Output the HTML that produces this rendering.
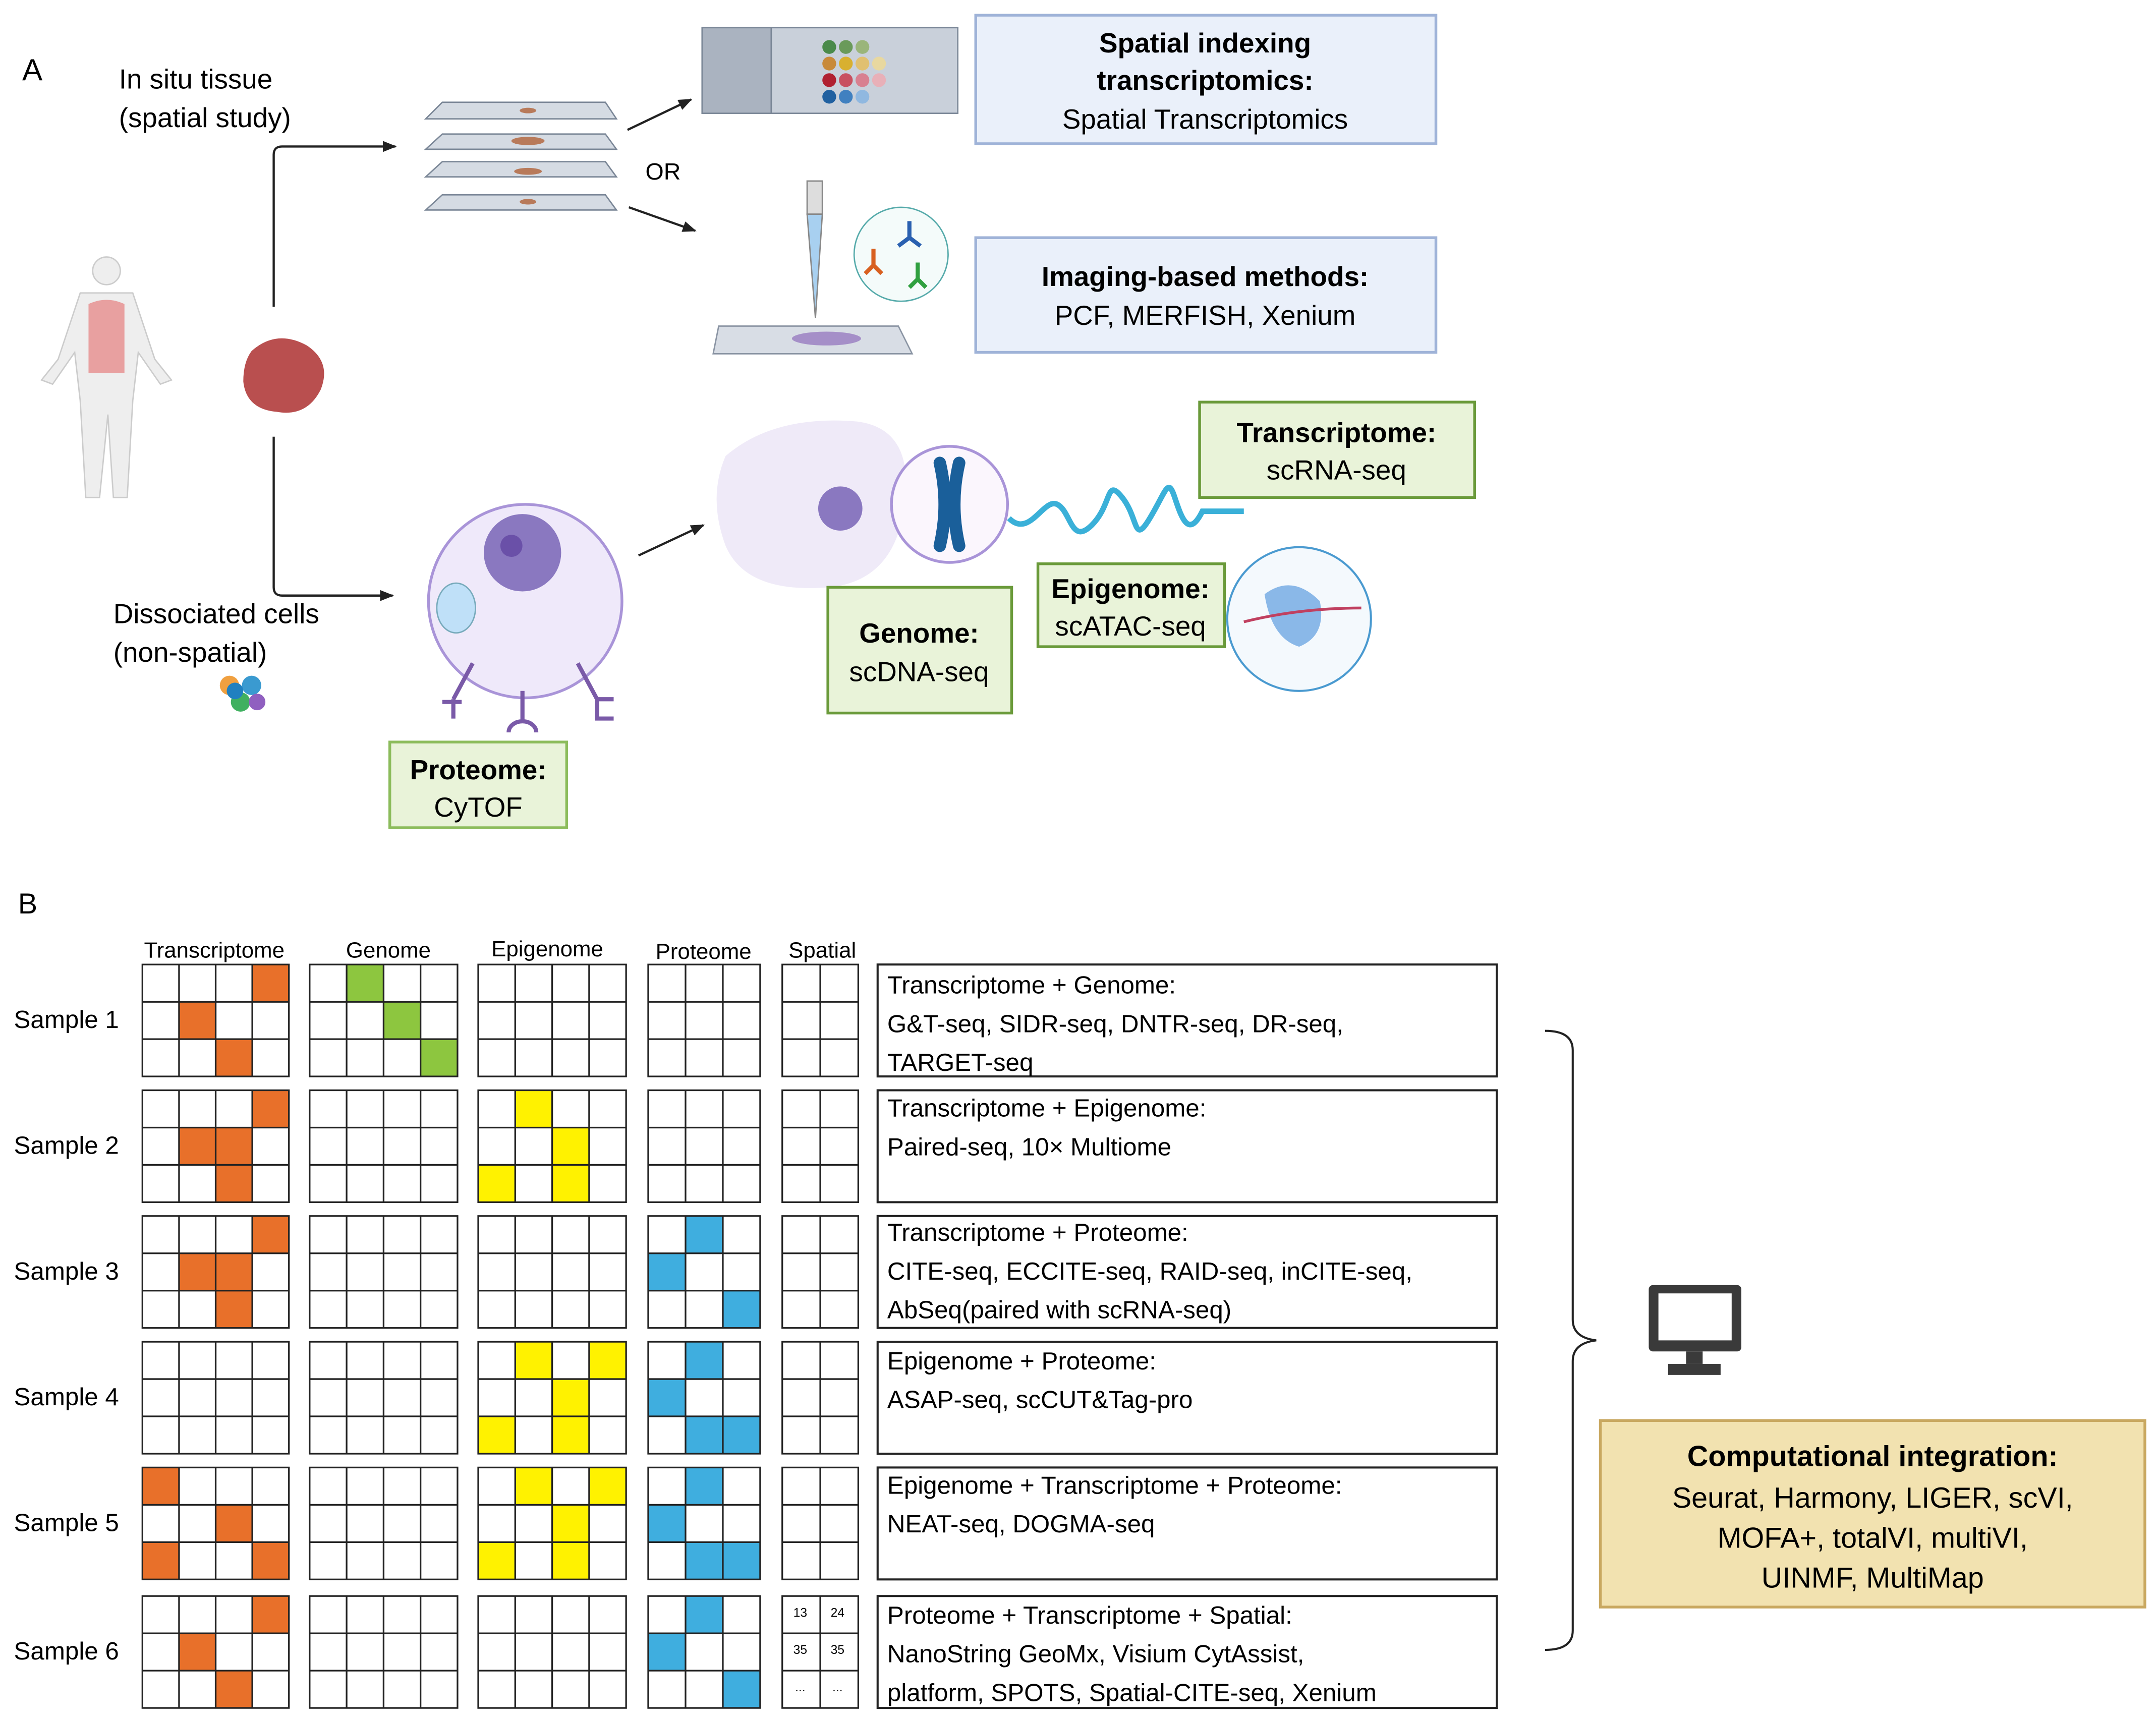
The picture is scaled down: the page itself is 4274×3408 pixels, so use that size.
<!DOCTYPE html>
<html><head><meta charset="utf-8"><style>html,body{margin:0;padding:0;background:#fff}svg{display:block}</style></head>
<body>
<svg xmlns="http://www.w3.org/2000/svg" xmlns:xlink="http://www.w3.org/1999/xlink" width="4274" height="3408" viewBox="0 0 1560 1244" font-family="Liberation Sans, sans-serif">
<defs><marker id="ar" markerWidth="10" markerHeight="10" refX="9" refY="5" orient="auto" markerUnits="userSpaceOnUse"><path d="M0,1 L10,5 L0,9 z" fill="#222"/></marker>
<g id="gr" fill="none" stroke="#222" stroke-width="1.2">
<rect x="103" y="0" width="106" height="81"/><path d="M129.5,0V81M156,0V81M182.5,0V81M103,27H209M103,54H209"/>
<rect x="224" y="0" width="107" height="81"/><path d="M250.75,0V81M277.5,0V81M304.25,0V81M224,27H331M224,54H331"/>
<rect x="346" y="0" width="107" height="81"/><path d="M372.75,0V81M399.5,0V81M426.25,0V81M346,27H453M346,54H453"/>
<rect x="469" y="0" width="81" height="81"/><path d="M496,0V81M523,0V81M469,27H550M469,54H550"/>
<rect x="566" y="0" width="55" height="81"/><path d="M593.5,0V81M566,27H621M566,54H621"/>
</g></defs>
<rect width="1560" height="1244" fill="#fff"/>
<!-- Part A -->
<text x="16" y="58" font-size="22">A</text>
<text x="86" y="64" font-size="20">In situ tissue</text>
<text x="86" y="92" font-size="20">(spatial study)</text>
<path d="M198,222 V112 Q198,106 204,106 H286" fill="none" stroke="#222" stroke-width="1.6" marker-end="url(#ar)"/>
<path d="M198,316 V425 Q198,431 204,431 H284" fill="none" stroke="#222" stroke-width="1.6" marker-end="url(#ar)"/>
<g fill="#eee" stroke="#ccc">
<circle cx="77" cy="196" r="10"/><path d="M58,212 H96 L112,260 L124,275 L116,278 L100,255 L96,290 L92,360 H82 L78,300 L72,360 H62 L58,290 L54,255 L38,278 L30,275 L42,260 Z"/></g>
<path d="M64,220 Q77,214 90,220 V270 H64 Z" fill="#e8a0a0"/>
<path d="M182,254 Q200,238 222,250 Q240,262 232,282 Q222,302 200,298 Q178,296 176,276 Q176,262 182,254Z" fill="#b94f4f"/>
<g fill="#d5dbe3" stroke="#7b8797">
<path d="M320,74 H438 L446,86 H308 Z"/><path d="M320,97 H438 L446,108 H308 Z"/><path d="M320,117 H438 L446,128 H308 Z"/><path d="M320,141 H438 L446,152 H308 Z"/></g>
<g fill="#b87a5a"><ellipse cx="382" cy="80" rx="6" ry="2"/><ellipse cx="382" cy="102" rx="12" ry="3"/><ellipse cx="382" cy="124" rx="10" ry="2.5"/><ellipse cx="382" cy="146" rx="6" ry="2"/></g>
<text x="467" y="130" font-size="17">OR</text>
<line x1="454" y1="94" x2="500" y2="72" stroke="#222" stroke-width="1.6" marker-end="url(#ar)"/>
<line x1="455" y1="150" x2="503" y2="167" stroke="#222" stroke-width="1.6" marker-end="url(#ar)"/>
<rect x="508" y="20" width="185" height="62" fill="#c9d0da" stroke="#7b8797"/><rect x="508" y="20" width="50" height="62" fill="#aab3c0" stroke="#7b8797"/>
<g><circle cx="600" cy="34" r="5" fill="#4a8a4a"/><circle cx="612" cy="34" r="5" fill="#6a9a5a"/><circle cx="624" cy="34" r="5" fill="#9ab57a"/><circle cx="600" cy="46" r="5" fill="#c88a3a"/><circle cx="612" cy="46" r="5" fill="#d8b030"/><circle cx="624" cy="46" r="5" fill="#e0c070"/><circle cx="636" cy="46" r="5" fill="#e8d8a0"/><circle cx="600" cy="58" r="5" fill="#b02030"/><circle cx="612" cy="58" r="5" fill="#c85060"/><circle cx="624" cy="58" r="5" fill="#d88090"/><circle cx="636" cy="58" r="5" fill="#e8b0b8"/><circle cx="600" cy="70" r="5" fill="#2060a0"/><circle cx="612" cy="70" r="5" fill="#4080c0"/><circle cx="624" cy="70" r="5" fill="#90b8e0"/></g>
<rect x="706" y="11" width="333" height="93" fill="#eaf0fa" stroke="#9fb3d8" stroke-width="2"/>
<text x="872" y="38" font-size="20" font-weight="bold" text-anchor="middle">Spatial indexing</text>
<text x="872" y="65" font-size="20" font-weight="bold" text-anchor="middle">transcriptomics:</text>
<text x="872" y="93" font-size="20" text-anchor="middle">Spatial Transcriptomics</text>
<rect x="584" y="131" width="11" height="24" fill="#ddd" stroke="#888"/><path d="M584,155 L595,155 L590,230 Z" fill="#a8d0f0" stroke="#888"/>
<path d="M520,236 H650 L660,256 H516 Z" fill="#d8dde5" stroke="#8a94a3"/><ellipse cx="598" cy="245" rx="25" ry="5" fill="#a58fc8"/>
<circle cx="652" cy="184" r="34" fill="#f4fbfa" stroke="#5aa"/>
<g stroke-width="3" fill="none"><path d="M658,160 v12 l8,6 M658,172 l-8,6" stroke="#2a60b0"/><path d="M632,180 v12 l6,6 M632,192 l-6,6" stroke="#d86020"/><path d="M664,190 v12 l6,6 M664,202 l-6,6" stroke="#30a040"/></g>
<rect x="706" y="172" width="333" height="83" fill="#eaf0fa" stroke="#9fb3d8" stroke-width="2"/>
<text x="872" y="207" font-size="20" font-weight="bold" text-anchor="middle">Imaging-based methods:</text>
<text x="872" y="235" font-size="20" text-anchor="middle">PCF, MERFISH, Xenium</text>
<text x="82" y="451" font-size="20">Dissociated cells</text>
<text x="82" y="479" font-size="20">(non-spatial)</text>
<g><circle cx="166" cy="496" r="7" fill="#f0a040"/><circle cx="182" cy="496" r="7" fill="#3a9ad0"/><circle cx="174" cy="508" r="7" fill="#40b060"/><circle cx="186" cy="508" r="6" fill="#9060c0"/><circle cx="170" cy="500" r="6" fill="#2080c0"/></g>
<circle cx="380" cy="435" r="70" fill="#efe9fa" stroke="#a994d8" stroke-width="2"/>
<circle cx="378" cy="400" r="28" fill="#8a78c0"/><circle cx="370" cy="395" r="8" fill="#6a50a8"/>
<ellipse cx="330" cy="440" rx="14" ry="18" fill="#bfe0f8" stroke="#7ab"/>
<g stroke="#7a5aa8" stroke-width="3" fill="none"><path d="M342,480 L328,506 M320,508 h14 M328,506 v14"/><path d="M378,500 v22 M368,530 a10,8 0 0 1 20,0"/><path d="M418,480 L432,506 h12 M432,506 v14 h12"/></g>
<rect x="282" y="537" width="128" height="62" fill="#e9f3d9" stroke="#8cbc5c" stroke-width="2"/>
<text x="346" y="564" font-size="20" font-weight="bold" text-anchor="middle">Proteome:</text>
<text x="346" y="591" font-size="20" text-anchor="middle">CyTOF</text>
<line x1="462" y1="402" x2="509" y2="380" stroke="#222" stroke-width="1.6" marker-end="url(#ar)"/>
<path d="M525,330 Q560,300 620,305 Q660,310 655,360 Q650,420 600,425 Q540,430 525,395 Q512,360 525,330Z" fill="#efeaf8"/>
<circle cx="608" cy="368" r="16" fill="#8a78c0"/>
<circle cx="687" cy="365" r="42" fill="#fbf6fd" stroke="#a994d8" stroke-width="2"/>
<path d="M680,335 Q687,365 680,395 M694,335 Q687,365 694,395" stroke="#1a5f9a" stroke-width="9" fill="none" stroke-linecap="round"/>
<path d="M730,375 C745,390 755,360 765,365 S775,395 790,380 S800,345 812,360 S820,395 832,375 S845,345 850,360 S860,390 870,370 L900,370" stroke="#3ab0d8" stroke-width="4" fill="none"/>
<rect x="868" y="291" width="199" height="69" fill="#e9f3d9" stroke="#6a9a3a" stroke-width="2"/>
<text x="967" y="320" font-size="20" font-weight="bold" text-anchor="middle">Transcriptome:</text>
<text x="967" y="347" font-size="20" text-anchor="middle">scRNA-seq</text>
<rect x="599" y="425" width="133" height="91" fill="#e9f3d9" stroke="#6a9a3a" stroke-width="2"/>
<text x="665" y="465" font-size="20" font-weight="bold" text-anchor="middle">Genome:</text>
<text x="665" y="493" font-size="20" text-anchor="middle">scDNA-seq</text>
<rect x="751" y="408" width="135" height="60" fill="#e9f3d9" stroke="#6a9a3a" stroke-width="2"/>
<text x="818" y="433" font-size="20" font-weight="bold" text-anchor="middle">Epigenome:</text>
<text x="818" y="460" font-size="20" text-anchor="middle">scATAC-seq</text>
<circle cx="940" cy="448" r="52" fill="#f4f9fd" stroke="#4a9ad0" stroke-width="1.5"/>
<path d="M915,430 Q935,415 955,435 Q960,460 940,468 Q920,462 915,430Z" fill="#8ab8e8"/>
<path d="M900,450 Q940,440 985,440" stroke="#c04060" stroke-width="2" fill="none"/>
<!-- Part B -->
<text x="13" y="661" font-size="21">B</text>
<g font-size="16" text-anchor="middle">
<text x="155" y="693">Transcriptome</text><text x="281" y="693">Genome</text><text x="396" y="692">Epigenome</text><text x="509" y="694">Proteome</text><text x="595" y="693">Spatial</text></g>
<!-- colored cells -->
<g width="26.75" height="27">
<g fill="#E8702A">
<rect x="182.5" y="698" width="26.5" height="27"/><rect x="129.5" y="725" width="26.5" height="27"/><rect x="156" y="752" width="26.5" height="27"/>
<rect x="182.5" y="789" width="26.5" height="27"/><rect x="129.5" y="816" width="26.5" height="27"/><rect x="156" y="816" width="26.5" height="27"/><rect x="156" y="843" width="26.5" height="27"/>
<rect x="182.5" y="880" width="26.5" height="27"/><rect x="129.5" y="907" width="26.5" height="27"/><rect x="156" y="907" width="26.5" height="27"/><rect x="156" y="934" width="26.5" height="27"/>
<rect x="103" y="1062" width="26.5" height="27"/><rect x="156" y="1089" width="26.5" height="27"/><rect x="103" y="1116" width="26.5" height="27"/><rect x="182.5" y="1116" width="26.5" height="27"/>
<rect x="182.5" y="1155" width="26.5" height="27"/><rect x="129.5" y="1182" width="26.5" height="27"/><rect x="156" y="1209" width="26.5" height="27"/>
</g>
<g fill="#8DC63F"><rect x="250.75" y="698" width="26.75" height="27"/><rect x="277.5" y="725" width="26.75" height="27"/><rect x="304.25" y="752" width="26.75" height="27"/></g>
<g fill="#FFF200">
<rect x="372.75" y="789" width="26.75" height="27"/><rect x="399.5" y="816" width="26.75" height="27"/><rect x="346" y="843" width="26.75" height="27"/><rect x="399.5" y="843" width="26.75" height="27"/>
<rect x="372.75" y="971" width="26.75" height="27"/><rect x="426.25" y="971" width="26.75" height="27"/><rect x="399.5" y="998" width="26.75" height="27"/><rect x="346" y="1025" width="26.75" height="27"/><rect x="399.5" y="1025" width="26.75" height="27"/>
<rect x="372.75" y="1062" width="26.75" height="27"/><rect x="426.25" y="1062" width="26.75" height="27"/><rect x="399.5" y="1089" width="26.75" height="27"/><rect x="346" y="1116" width="26.75" height="27"/><rect x="399.5" y="1116" width="26.75" height="27"/>
</g>
<g fill="#3FAEDF">
<rect x="496" y="880" width="27" height="27"/><rect x="469" y="907" width="27" height="27"/><rect x="523" y="934" width="27" height="27"/>
<rect x="496" y="971" width="27" height="27"/><rect x="469" y="998" width="27" height="27"/><rect x="496" y="1025" width="27" height="27"/><rect x="523" y="1025" width="27" height="27"/>
<rect x="496" y="1062" width="27" height="27"/><rect x="469" y="1089" width="27" height="27"/><rect x="496" y="1116" width="27" height="27"/><rect x="523" y="1116" width="27" height="27"/>
<rect x="496" y="1155" width="27" height="27"/><rect x="469" y="1182" width="27" height="27"/><rect x="523" y="1209" width="27" height="27"/>
</g></g>
<use xlink:href="#gr" href="#gr" x="0" y="698"/>
<use xlink:href="#gr" href="#gr" x="0" y="789"/>
<use xlink:href="#gr" href="#gr" x="0" y="880"/>
<use xlink:href="#gr" href="#gr" x="0" y="971"/>
<use xlink:href="#gr" href="#gr" x="0" y="1062"/>
<use xlink:href="#gr" href="#gr" x="0" y="1155"/>
<g font-size="18">
<text x="10" y="744">Sample 1</text><text x="10" y="835">Sample 2</text><text x="10" y="926">Sample 3</text><text x="10" y="1017">Sample 4</text><text x="10" y="1108">Sample 5</text><text x="10" y="1201">Sample 6</text></g>
<g fill="#fff" stroke="#222" stroke-width="1.5">
<rect x="635" y="698" width="448" height="81"/><rect x="635" y="789" width="448" height="81"/><rect x="635" y="880" width="448" height="81"/><rect x="635" y="971" width="448" height="81"/><rect x="635" y="1062" width="448" height="81"/><rect x="635" y="1155" width="448" height="81"/></g>
<g font-size="18">
<text x="642" y="719">Transcriptome + Genome:</text><text x="642" y="747">G&amp;T-seq, SIDR-seq, DNTR-seq, DR-seq,</text><text x="642" y="775">TARGET-seq</text>
<text x="642" y="808">Transcriptome + Epigenome:</text><text x="642" y="836">Paired-seq, 10× Multiome</text>
<text x="642" y="898">Transcriptome + Proteome:</text><text x="642" y="926">CITE-seq, ECCITE-seq, RAID-seq, inCITE-seq,</text><text x="642" y="954">AbSeq(paired with scRNA-seq)</text>
<text x="642" y="991">Epigenome + Proteome:</text><text x="642" y="1019">ASAP-seq, scCUT&amp;Tag-pro</text>
<text x="642" y="1081">Epigenome + Transcriptome + Proteome:</text><text x="642" y="1109">NEAT-seq, DOGMA-seq</text>
<text x="642" y="1175">Proteome + Transcriptome + Spatial:</text><text x="642" y="1203">NanoString GeoMx, Visium CytAssist,</text><text x="642" y="1231">platform, SPOTS, Spatial-CITE-seq, Xenium</text></g>
<path d="M1118,746 Q1138,746 1138,760 V955 Q1138,968 1155,970 Q1138,972 1138,985 V1180 Q1138,1194 1118,1194" fill="none" stroke="#222" stroke-width="1.5"/>
<rect x="1193" y="930" width="67" height="48" rx="3" fill="#3a3a3a"/><rect x="1200" y="936" width="53" height="34" fill="#fff"/><rect x="1220" y="978" width="12" height="9" fill="#3a3a3a"/><rect x="1207" y="987" width="38" height="8" fill="#3a3a3a"/>
<rect x="1158" y="1028" width="394" height="135" fill="#f2e2b0" stroke="#c9a860" stroke-width="2"/>
<g font-size="21" text-anchor="middle"><text x="1355" y="1061" font-weight="bold">Computational integration:</text><text x="1355" y="1091">Seurat, Harmony, LIGER, scVI,</text><text x="1355" y="1120">MOFA+, totalVI, multiVI,</text><text x="1355" y="1149">UINMF, MultiMap</text></g>
<g font-size="9" text-anchor="middle"><text x="579" y="1170">13</text><text x="606" y="1170">24</text><text x="579" y="1197">35</text><text x="606" y="1197">35</text><text x="579" y="1224">...</text><text x="606" y="1224">...</text></g>
</svg>
</body></html>
